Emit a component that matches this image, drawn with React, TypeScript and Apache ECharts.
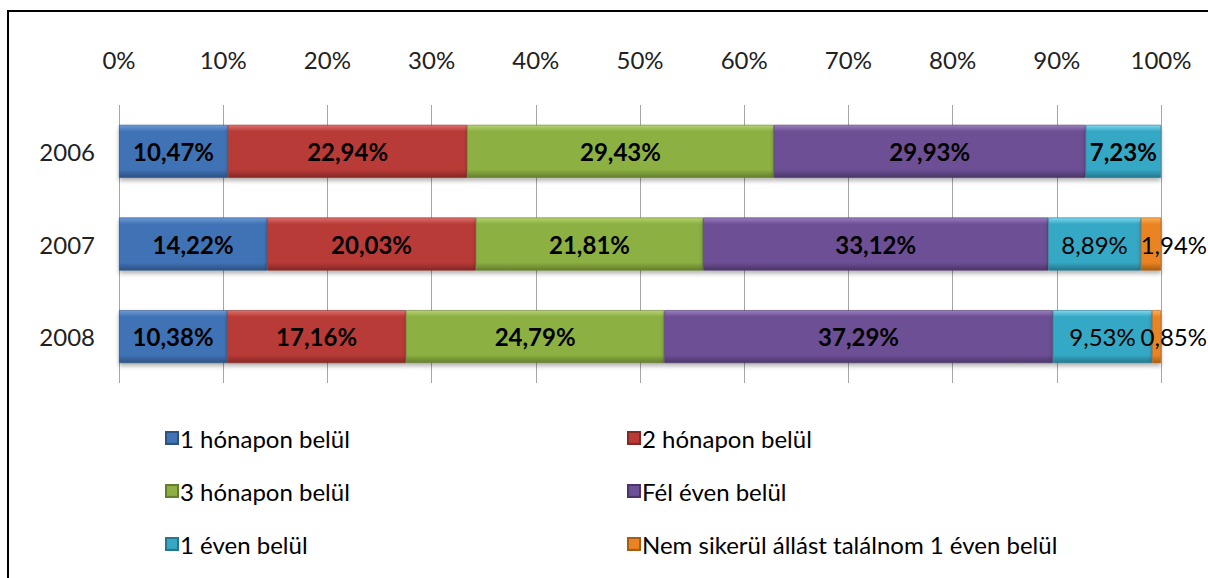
import React, { useEffect, useRef } from "react";
import * as echarts from "echarts";

const categories = ["2006", "2007", "2008"];
const seriesNames = [
  "1 hónapon belül",
  "2 hónapon belül",
  "3 hónapon belül",
  "Fél éven belül",
  "1 éven belül",
  "Nem sikerül állást találnom 1 éven belül",
];
const oneMonth = [10.47, 14.22, 10.38];
const twoMonths = [22.94, 20.03, 17.16];
const threeMonths = [29.43, 21.81, 24.79];
const halfYear = [29.93, 33.12, 37.29];
const oneYear = [7.23, 8.89, 9.53];
const notFound = [0, 1.94, 0.85];
const seriesValues = [oneMonth, twoMonths, threeMonths, halfYear, oneYear, notFound];
const xTicks = [0, 10, 20, 30, 40, 50, 60, 70, 80, 90, 100];

const palette = [
  { light: "#6d9ad6", base: "#4173b6", dark: "#2c5283" },
  { light: "#e0706c", base: "#b93a37", dark: "#852826" },
  { light: "#b6d371", base: "#8cb043", dark: "#637e2d" },
  { light: "#9a7fc0", base: "#6d4f95", dark: "#4b3568" },
  { light: "#7fd8ef", base: "#36a8c5", dark: "#24778d" },
  { light: "#ffb05a", base: "#ea8422", dark: "#a85d14" },
];

const FONT = "Lato, 'Open Sans', sans-serif";

export default function App() {
  const ref = useRef<HTMLDivElement>(null);
  useEffect(() => {
    if (!ref.current) return;
    const chart = echarts.init(ref.current, undefined, { renderer: "svg" });
    const fmt = (v: number) => v.toFixed(2).replace(".", ",") + "%";
    const series = seriesValues.map((vals, si) => {
      const c = palette[si];
      return {
        name: seriesNames[si],
        type: "bar",
        stack: "total",
        barWidth: 53,
        itemStyle: {
          color: new echarts.graphic.LinearGradient(0, 0, 0, 1, [
            { offset: 0, color: c.light },
            { offset: 0.12, color: c.base },
            { offset: 0.85, color: c.base },
            { offset: 1, color: c.dark },
          ]),
          borderColor: c.dark,
          borderWidth: 0.6,
          shadowColor: "rgba(0,0,0,0.3)",
          shadowBlur: 4,
          shadowOffsetY: 3,
        },
        data: vals.map((v, i) => {
          if (!v) return { value: null };
          const normal = si === 5 || (si === 4 && i > 0);
          const label: any = {
            show: true,
            fontWeight: normal ? "normal" : "bold",
            formatter: () => fmt(v),
          };
          if (si === 5) {
            label.position = ["100%", "50%"];
            label.align = "right";
            label.verticalAlign = "middle";
            label.offset = [46, 0];
          } else {
            label.position = "inside";
          }
          return { value: v, label };
        }),
        label: {
          show: true,
          color: "#000",
          fontSize: 24,
          fontFamily: FONT,
        },
      };
    });
    const legendCommon = {
      orient: "vertical",
      top: 419,
      itemWidth: 12,
      itemHeight: 12,
      itemGap: 25,
      icon: "rect",
      textStyle: { fontSize: 24, fontFamily: FONT, color: "#000", lineHeight: 28, padding: [0, 0, 0, -3] },
    };
    chart.setOption({
      animation: false,
      backgroundColor: "#fff",
      graphic: [
        {
          type: "rect",
          shape: { x: 8, y: 11, width: 1300, height: 700 },
          style: { fill: "none", stroke: "#000", lineWidth: 2 },
          z: 100,
        },
      ],
      legend: [
        { ...legendCommon, left: 160, data: [seriesNames[0], seriesNames[2], seriesNames[4]] },
        { ...legendCommon, left: 622, data: [seriesNames[1], seriesNames[3], seriesNames[5]] },
      ],
      grid: { left: 119, right: 47, top: 105, height: 278 },
      xAxis: {
        type: "value",
        position: "top",
        min: 0,
        max: 100,
        interval: 10,
        axisLine: { show: false },
        axisTick: { show: false },
        axisLabel: {
          margin: 34,
          fontSize: 24,
          fontFamily: FONT,
          color: "#222",
          formatter: (v: number) => (xTicks.includes(v) ? v + "%" : ""),
        },
        splitLine: { show: true, lineStyle: { color: "#a6a6a6", width: 1 } },
      },
      yAxis: {
        type: "category",
        inverse: true,
        data: categories,
        axisLine: { show: false },
        axisTick: { show: false },
        axisLabel: { margin: 24, fontSize: 24, fontFamily: FONT, color: "#222" },
      },
      series,
    });
    return () => chart.dispose();
  }, []);
  return (
    <div
      ref={ref}
      style={{ position: "fixed", left: 0, top: 0, width: 1208, height: 578 }}
    />
  );
}
